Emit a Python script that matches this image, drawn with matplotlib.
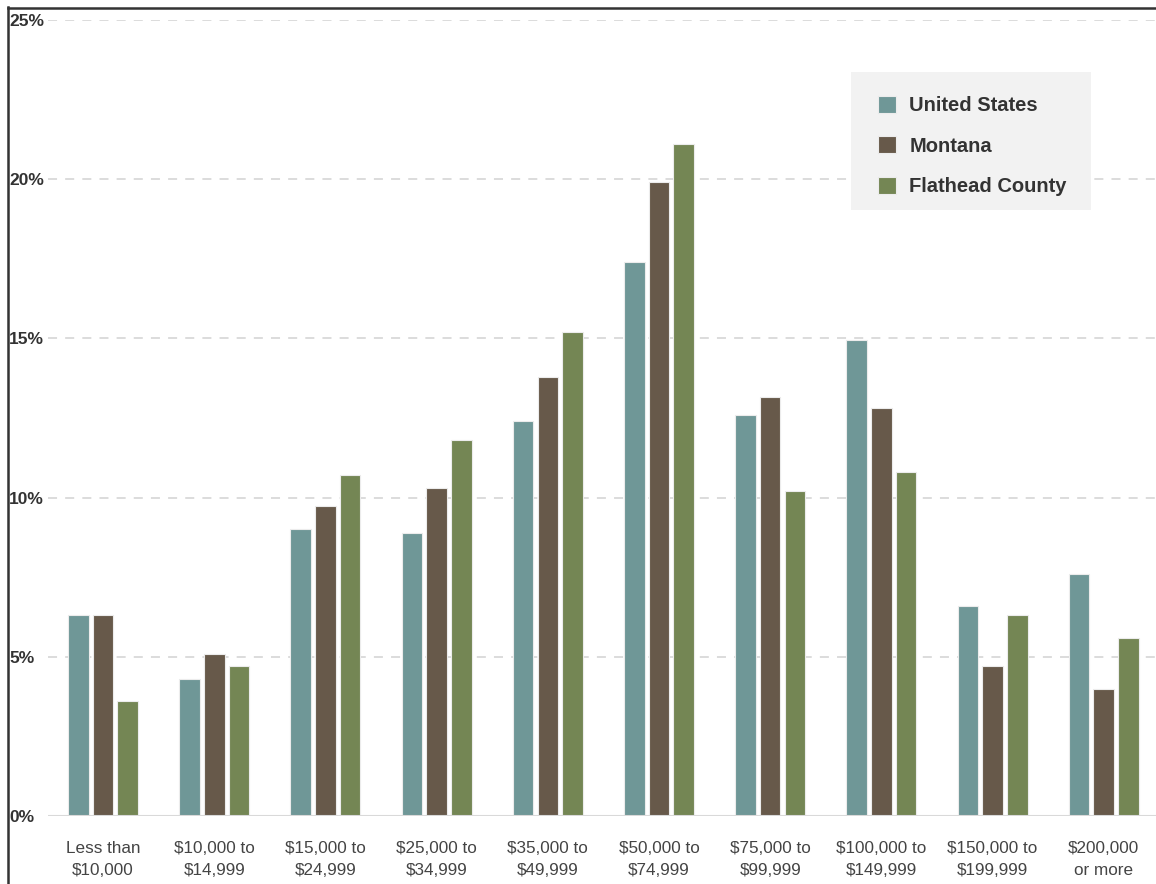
import numpy as np
import matplotlib.pyplot as plt
from matplotlib.lines import Line2D
from matplotlib.patches import Rectangle

# Données
categories = ["Less than\n$10,000", "$10,000 to\n$14,999", "$15,000 to\n$24,999",
              "$25,000 to\n$34,999", "$35,000 to\n$49,999", "$50,000 to\n$74,999",
              "$75,000 to\n$99,999", "$100,000 to\n$149,999", "$150,000 to\n$199,999",
              "$200,000\nor more"]
united_states = [6.3, 4.3, 9.0, 8.9, 12.4, 17.4, 12.6, 14.95, 6.6, 7.6]
montana = [6.3, 5.1, 9.75, 10.3, 13.8, 19.9, 13.15, 12.8, 4.7, 4.0]
flathead = [3.6, 4.7, 10.7, 11.8, 15.2, 21.1, 10.2, 10.8, 6.3, 5.6]
series_names = ["United States", "Montana", "Flathead County"]
yticks = [0, 5, 10, 15, 20, 25]

colors = ["#6f9797", "#67594a", "#748654"]

W, H = 1156, 884
fig = plt.figure(figsize=(W / 100, H / 100), dpi=100)
fig.patch.set_facecolor("white")

# axes en pixels : gauche 48, droite 1156, haut 20, bas 816
ax = fig.add_axes([48 / W, (H - 816) / H, (1156 - 48) / W, (816 - 20) / H])

x = np.arange(len(categories))
bw = 0.185
off = 0.222
for i, (vals, c) in enumerate(zip([united_states, montana, flathead], colors)):
    ax.bar(x + (i - 1) * off, vals, width=bw, color=c, edgecolor="#ececec",
           linewidth=0.8, label=series_names[i], zorder=3)

ax.set_ylim(0, 25)
ax.set_xlim(-0.495, 9.47)

for s in ax.spines.values():
    s.set_visible(False)

ax.set_yticks(yticks)
ax.set_yticklabels(["%d%%" % v for v in yticks], fontsize=12.5, fontweight="bold",
                   color="#333333", family="Liberation Sans")
for lab in ax.get_yticklabels():
    lab.set_horizontalalignment("left")
ax.tick_params(axis="y", length=0, pad=39 * 72 / 100)

ax.set_xticks(x)
ax.set_xticklabels(categories, fontsize=12.3, color="#444444", family="Liberation Sans",
                   linespacing=1.6)
ax.tick_params(axis="x", length=0, pad=18)

for v in yticks[1:]:
    ax.axhline(v, color="#d9d9d9", linewidth=1.3, linestyle=(0, (5, 4.5)), zorder=1)
ax.axhline(0, color="#d9d9d9", linewidth=1.5, zorder=4)

# fond de la légende
ax.add_patch(Rectangle((851 / W, 1 - 210 / H), 240 / W, 138 / H, transform=fig.transFigure,
                       facecolor="#f2f2f2", edgecolor="none", zorder=6, clip_on=False))
leg = ax.legend(loc="upper left", bbox_to_anchor=(878 / W, 1 - 96 / H),
                bbox_transform=fig.transFigure, frameon=False,
                prop={"family": "Liberation Sans", "weight": "bold", "size": 14.5},
                handlelength=0.9, handleheight=0.9, handletextpad=0.65,
                labelspacing=1.05, borderpad=0, borderaxespad=0)
leg.set_zorder(10)
for t in leg.get_texts():
    t.set_color("#333333")

# bordure de la capture
fig.add_artist(Line2D([8 / W, 8 / W], [0, 1 - 7 / H], color="#333333", linewidth=1.8))
fig.add_artist(Line2D([8 / W, 1], [1 - 8 / H, 1 - 8 / H], color="#333333", linewidth=1.8))

fig.savefig("out.png", dpi=100)
